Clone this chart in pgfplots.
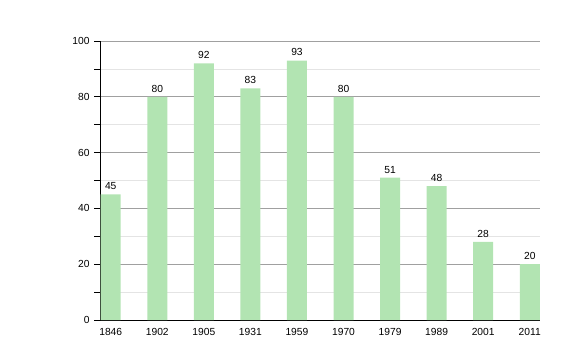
\documentclass[border=0pt]{standalone}
\usepackage{pgfplots}
\pgfplotsset{compat=1.18}
\usepackage{fontspec}
\setmainfont{Liberation Sans}
\definecolor{barg}{RGB}{178,228,178}
\definecolor{majg}{RGB}{160,160,160}
\definecolor{ming}{RGB}{228,228,228}
\begin{document}
\begin{tikzpicture}[x=1bp,y=1bp]
\path[use as bounding box] (-100bp,-40bp) rectangle (480bp,320bp);
\begin{axis}[
  at={(0,0)}, anchor=south west,
  scale only axis, width=440bp, height=279bp,
  xmin=-0.23, xmax=9.22, ymin=0, ymax=100,
  axis lines*=left,
  axis line style={black, line width=0.8pt, -},
  xtick={0,...,9},
  xticklabels={1846,1902,1905,1931,1959,1970,1979,1989,2001,2011},
  x tick style={draw=none},
  ytick={0,20,...,100},
  minor ytick={10,30,...,90},
  ymajorgrids, yminorgrids,
  major grid style={majg, line width=0.7pt},
  minor grid style={ming, line width=0.7pt},
  y tick style={black, line width=0.6pt},
  minor y tick style={black, line width=0.6pt},
  tick align=outside,
  major tick length=6bp, minor tick length=6bp,
  tick label style={font=\fontsize{10.3}{12}\selectfont},
  /pgf/number format/assume math mode=true,
  xticklabel style={yshift=1bp},
  yticklabel style={xshift=-1bp},
  clip=false,
]
\addplot[ybar, bar width=20bp, fill=barg, draw=none,
  nodes near coords,
  nodes near coords style={font=\fontsize{10.3}{12}\selectfont, black, yshift=1bp}]
  coordinates {(0,45) (1,80) (2,92) (3,83) (4,93) (5,80) (6,51) (7,48) (8,28) (9,20)};
\end{axis}
\end{tikzpicture}
\end{document}
